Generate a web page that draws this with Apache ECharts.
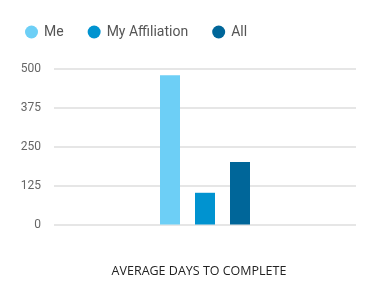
<!DOCTYPE html>
<html><head><meta charset="utf-8">
<script src="https://cdn.jsdelivr.net/npm/echarts@6/dist/echarts.min.js"></script>
<style>html,body{margin:0;padding:0;background:#fff}#c{width:382px;height:294px}</style>
</head><body><div id="c"></div>
<script>
const categories = ['AVERAGE DAYS TO COMPLETE'];
const seriesNames = ['Me', 'My Affiliation', 'All'];
const meValues = [480];
const affiliationValues = [102];
const allValues = [201];
const yTicks = [0, 125, 250, 375, 500];
const colors = ['#6dcff6', '#0093d0', '#006699'];

const chart = echarts.init(document.getElementById('c'), null, {renderer: 'canvas'});
const data = [meValues, affiliationValues, allValues];
chart.setOption({
  animation: false,
  color: colors,
  legend: {
    left: 20, top: 20,
    icon: 'circle', itemWidth: 13, itemHeight: 13, itemGap: 24,
    textStyle: {color: '#555', fontSize: 14, fontFamily: 'Roboto', padding: [0, 0, 0, 1]},
    data: seriesNames
  },
  grid: {left: 54, right: 26, top: 69, bottom: 69.5},
  xAxis: {
    type: 'category', data: categories,
    axisLine: {show: false}, axisTick: {show: false},
    axisLabel: {color: '#222', fontSize: 12.5, fontFamily: 'Open Sans', margin: 40, padding: [0, 12, 0, 0]}
  },
  yAxis: {
    type: 'value', min: yTicks[0], max: yTicks[yTicks.length - 1], interval: 125,
    axisLine: {show: false}, axisTick: {show: false},
    axisLabel: {color: '#666', fontSize: 12, fontFamily: 'Roboto', margin: 13},
    splitLine: {lineStyle: {color: '#e6e6e6', width: 2}}
  },
  series: seriesNames.map((n, i) => ({
    name: n, type: 'bar', data: data[i], barWidth: 20, barGap: '75%',
    itemStyle: {color: colors[i]}
  }))
});
</script></body></html>
